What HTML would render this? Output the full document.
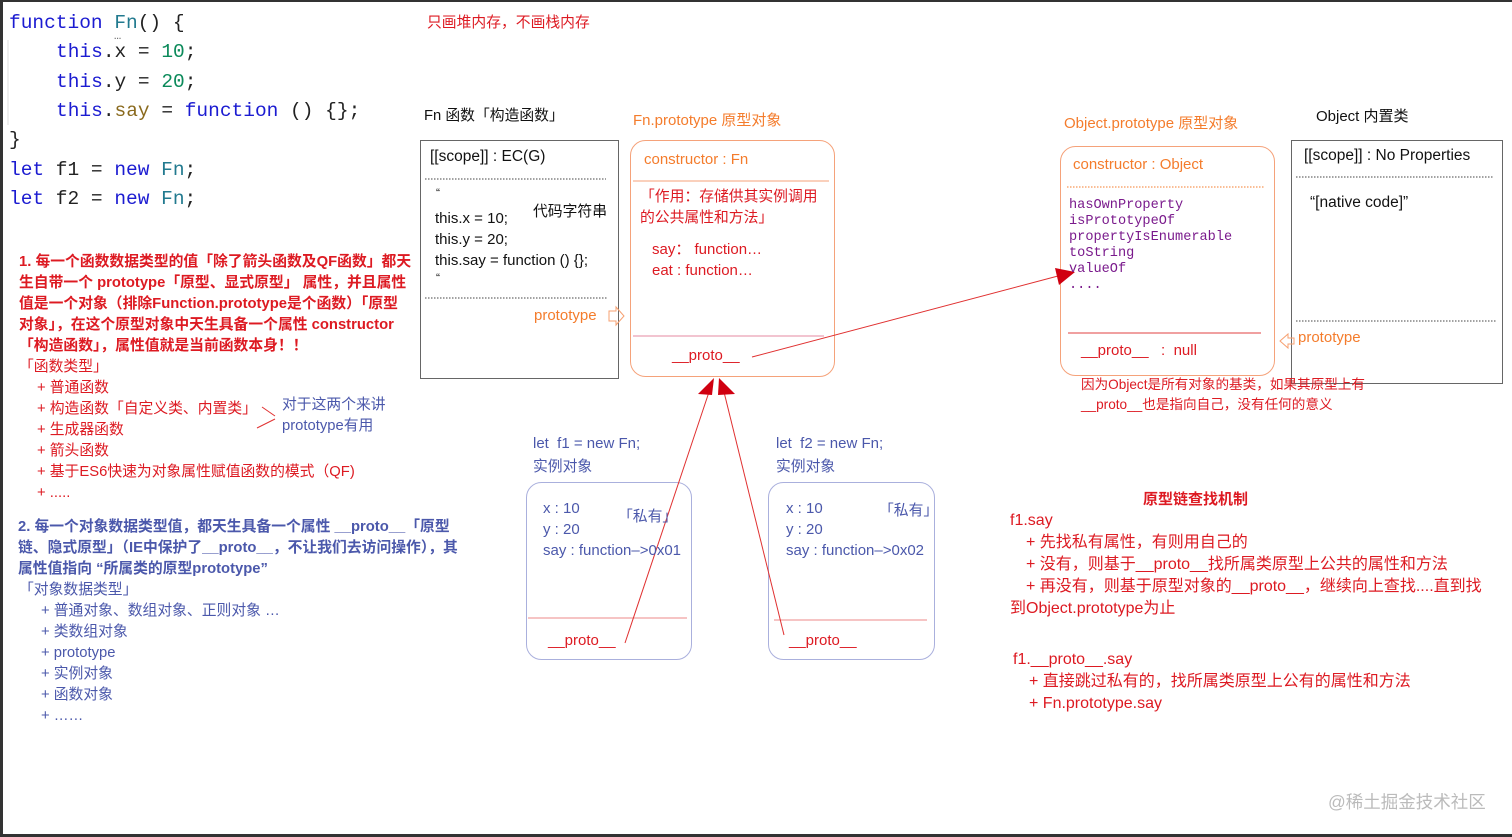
<!DOCTYPE html>
<html><head><meta charset="utf-8"><style>
html,body{margin:0;padding:0}
body{width:1512px;height:837px;position:relative;overflow:hidden;background:#fff;font-family:"Liberation Sans","Noto Sans CJK SC",sans-serif}
.t{position:absolute;white-space:nowrap;line-height:1}
.code{font-family:"Liberation Mono","DejaVu Sans Mono",monospace;font-size:19.5px;color:#222}
.kw{color:#1b1bd1}.num{color:#0b8a5a}.fn{color:#227a8f}.say{color:#8a6a1e}
.r{color:#dd1a22}.rb{color:#dd1a22;font-weight:bold;font-size:14.8px}
.b{color:#4b58ab}.bb{color:#4b58ab;font-weight:bold;font-size:14.8px}
.o{color:#f47c2c}
.m{font-family:"Liberation Mono","DejaVu Sans Mono",monospace;color:#7a1a8c;font-size:13.6px;line-height:16px}
</style></head><body>
<div style="position:absolute;left:0;top:0;width:1512px;height:2px;background:#333"></div>
<div style="position:absolute;left:0;top:0;width:3px;height:837px;background:#333"></div>
<div style="position:absolute;left:0;top:834px;width:1512px;height:3px;background:#333"></div>

<svg width="1512" height="837" style="position:absolute;left:0;top:0">
<line x1="8" y1="40" x2="8" y2="125" stroke="#ddd" stroke-width="1"/>
<rect x="420.5" y="140.5" width="198" height="238" fill="none" stroke="#666"/>
<line x1="425" y1="179" x2="606" y2="179" stroke="#444" stroke-dasharray="1.5,1.5"/>
<line x1="425" y1="298" x2="608" y2="298" stroke="#444" stroke-dasharray="1.5,1.5"/>
<path d="M609 311 h7 v-4 l8 9 l-8 9 v-4 h-7z" fill="none" stroke="#f7a070"/>
<rect x="630.5" y="140.5" width="204" height="236" rx="15" fill="none" stroke="#f5a27a"/>
<line x1="633" y1="181" x2="829" y2="181" stroke="#f5a27a"/>
<line x1="633" y1="336" x2="824" y2="336" stroke="#e58aa0"/>
<rect x="1060.5" y="146.5" width="214" height="229" rx="15" fill="none" stroke="#f5a27a"/>
<line x1="1067" y1="187" x2="1265" y2="187" stroke="#f47c2c" stroke-dasharray="1.5,1.5"/>
<line x1="1068" y1="333" x2="1261" y2="333" stroke="#e04040"/>
<rect x="1291.5" y="140.5" width="211" height="243" fill="none" stroke="#666"/>
<line x1="1296" y1="177" x2="1494" y2="177" stroke="#444" stroke-dasharray="1.5,1.5"/>
<line x1="1296" y1="321" x2="1497" y2="321" stroke="#444" stroke-dasharray="1.5,1.5"/>
<path d="M1294 338 h-6 v-4 l-8 7 l8 7 v-4 h6z" fill="none" stroke="#f7a070"/>
<rect x="526.5" y="482.5" width="165" height="177" rx="15" fill="none" stroke="#aab0dd"/>
<line x1="528" y1="618" x2="687" y2="618" stroke="#e88"/>
<rect x="768.5" y="482.5" width="166" height="177" rx="15" fill="none" stroke="#aab0dd"/>
<line x1="774" y1="620" x2="927" y2="620" stroke="#e88"/>
<g stroke="#e03030" stroke-width="1">
<line x1="625" y1="643" x2="709" y2="392"/>
<line x1="784" y1="635" x2="724" y2="392"/>
<line x1="752" y1="357" x2="1058" y2="276"/>
<line x1="262" y1="407" x2="275" y2="416"/>
<line x1="275" y1="419" x2="257" y2="428"/>
</g>
<g fill="#d00010">
<polygon points="714,378 698,394 712,395"/>
<polygon points="719,378 718,395 735,394"/>
<polygon points="1075,272 1055,268 1059,285"/>
</g>
</svg>

<div class="t code" style="left:9px;top:14px"><span class="kw">function</span> <span class="fn">Fn</span>() {</div>
<div class="t code" style="left:114px;top:30px;font-size:12px;color:#666">…</div>
<div class="t code" style="left:56px;top:43px"><span class="kw">this</span>.x = <span class="num">10</span>;</div>
<div class="t code" style="left:56px;top:73px"><span class="kw">this</span>.y = <span class="num">20</span>;</div>
<div class="t code" style="left:56px;top:102px"><span class="kw">this</span>.<span class="say">say</span> = <span class="kw">function</span> () {};</div>
<div class="t code" style="left:9px;top:131px">}</div>
<div class="t code" style="left:9px;top:161px"><span class="kw">let</span> f1 = <span class="kw">new</span> <span class="fn">Fn</span>;</div>
<div class="t code" style="left:9px;top:190px"><span class="kw">let</span> f2 = <span class="kw">new</span> <span class="fn">Fn</span>;</div>

<div class="t r" style="left:427px;top:16px;font-size:14.8px">只画堆内存，不画栈内存</div>

<div class="t rb" style="left:19px;top:255px">1. 每一个函数数据类型的值「除了箭头函数及QF函数」都天</div>
<div class="t rb" style="left:19px;top:276px">生自带一个 prototype「原型、显式原型」 属性，并且属性</div>
<div class="t rb" style="left:19px;top:297px">值是一个对象（排除Function.prototype是个函数）「原型</div>
<div class="t rb" style="left:19px;top:318px">对象」，在这个原型对象中天生具备一个属性 constructor</div>
<div class="t rb" style="left:19px;top:339px">「构造函数」，属性值就是当前函数本身！！</div>
<div class="t r" style="left:19px;top:360px;font-size:14.8px">「函数类型」</div>
<div class="t r" style="left:37px;top:381px;font-size:14.8px">+ 普通函数</div>
<div class="t r" style="left:37px;top:402px;font-size:14.8px">+ 构造函数「自定义类、内置类」</div>
<div class="t r" style="left:37px;top:423px;font-size:14.8px">+ 生成器函数</div>
<div class="t r" style="left:37px;top:444px;font-size:14.8px">+ 箭头函数</div>
<div class="t r" style="left:37px;top:465px;font-size:14.8px">+ 基于ES6快速为对象属性赋值函数的模式（QF)</div>
<div class="t r" style="left:37px;top:486px;font-size:14.8px">+ .....</div>
<div class="t b" style="left:282px;top:398px;font-size:14.8px">对于这两个来讲</div>
<div class="t b" style="left:282px;top:419px;font-size:14.8px">prototype有用</div>

<div class="t bb" style="left:18px;top:520px">2.  每一个对象数据类型值，都天生具备一个属性 __proto__「原型</div>
<div class="t bb" style="left:18px;top:541px">链、隐式原型」（IE中保护了__proto__，不让我们去访问操作），其</div>
<div class="t bb" style="left:18px;top:562px">属性值指向 “所属类的原型prototype”</div>
<div class="t b" style="left:19px;top:583px;font-size:14.8px">「对象数据类型」</div>
<div class="t b" style="left:41px;top:604px;font-size:14.8px">+ 普通对象、数组对象、正则对象 …</div>
<div class="t b" style="left:41px;top:625px;font-size:14.8px">+ 类数组对象</div>
<div class="t b" style="left:41px;top:646px;font-size:14.8px">+ prototype</div>
<div class="t b" style="left:41px;top:667px;font-size:14.8px">+ 实例对象</div>
<div class="t b" style="left:41px;top:688px;font-size:14.8px">+ 函数对象</div>
<div class="t b" style="left:41px;top:709px;font-size:14.8px">+ ……</div>

<div class="t" style="left:424px;top:109px;font-size:14.8px;color:#111">Fn 函数「构造函数」</div>
<div class="t" style="left:430px;top:149px;font-size:15.5px;color:#111">[[scope]] : EC(G)</div>
<div class="t" style="left:436px;top:187px;font-size:12px;color:#111">“</div>
<div class="t" style="left:435px;top:211px;font-size:15px;color:#111">this.x = 10;</div>
<div class="t" style="left:533px;top:205px;font-size:14.8px;color:#111">代码字符串</div>
<div class="t" style="left:435px;top:232px;font-size:15px;color:#111">this.y = 20;</div>
<div class="t" style="left:435px;top:253px;font-size:15px;color:#111">this.say = function () {};</div>
<div class="t" style="left:436px;top:272px;font-size:12px;color:#111">“</div>
<div class="t o" style="left:534px;top:308px;font-size:15px">prototype</div>

<div class="t o" style="left:633px;top:113px;font-size:15px">Fn.prototype 原型对象</div>
<div class="t o" style="left:644px;top:152px;font-size:15px">constructor : Fn</div>
<div class="t r" style="left:640px;top:190px;font-size:14.8px">「作用：存储供其实例调用</div>
<div class="t r" style="left:640px;top:211px;font-size:14.8px">的公共属性和方法」</div>
<div class="t r" style="left:652px;top:242px;font-size:15px">say： function…</div>
<div class="t r" style="left:652px;top:263px;font-size:15px">eat : function…</div>
<div class="t r" style="left:672px;top:348px;font-size:15px">__proto__</div>

<div class="t o" style="left:1064px;top:116px;font-size:15px">Object.prototype 原型对象</div>
<div class="t o" style="left:1073px;top:157px;font-size:15px">constructor : Object</div>
<div class="t m" style="left:1069px;top:198px">hasOwnProperty<br>isPrototypeOf<br>propertyIsEnumerable<br>toString<br>valueOf<br>....</div>
<div class="t r" style="left:1081px;top:343px;font-size:15px">__proto__ &nbsp;&nbsp;: &nbsp;null</div>
<div class="t r" style="left:1081px;top:378px;font-size:13.6px">因为Object是所有对象的基类，如果其原型上有</div>
<div class="t r" style="left:1081px;top:398px;font-size:13.6px">__proto__也是指向自己，没有任何的意义</div>

<div class="t" style="left:1316px;top:109px;font-size:15px;color:#111">Object 内置类</div>
<div class="t" style="left:1304px;top:148px;font-size:15.5px;color:#111">[[scope]] : No Properties</div>
<div class="t" style="left:1310px;top:195px;font-size:15.5px;color:#111">“[native code]”</div>
<div class="t o" style="left:1298px;top:330px;font-size:15px">prototype</div>

<div class="t b" style="left:533px;top:436px;font-size:15px">let &nbsp;f1 = new Fn;</div>
<div class="t b" style="left:533px;top:460px;font-size:14.8px">实例对象</div>
<div class="t b" style="left:543px;top:501px;font-size:15px">x : 10</div>
<div class="t b" style="left:543px;top:522px;font-size:15px">y : 20</div>
<div class="t b" style="left:543px;top:543px;font-size:15px">say : function–&gt;0x01</div>
<div class="t b" style="left:618px;top:510px;font-size:14.8px">「私有」</div>
<div class="t r" style="left:548px;top:633px;font-size:15px">__proto__</div>

<div class="t b" style="left:776px;top:436px;font-size:15px">let &nbsp;f2 = new Fn;</div>
<div class="t b" style="left:776px;top:460px;font-size:14.8px">实例对象</div>
<div class="t b" style="left:786px;top:501px;font-size:15px">x : 10</div>
<div class="t b" style="left:786px;top:522px;font-size:15px">y : 20</div>
<div class="t b" style="left:786px;top:543px;font-size:15px">say : function–&gt;0x02</div>
<div class="t b" style="left:879px;top:504px;font-size:14.8px">「私有」</div>
<div class="t r" style="left:789px;top:633px;font-size:15px">__proto__</div>

<div class="t r" style="left:1143px;top:492px;font-size:15px;font-weight:bold">原型链查找机制</div>
<div class="t r" style="left:1010px;top:513px;font-size:16px">f1.say</div>
<div class="t r" style="left:1026px;top:535px;font-size:16px">+ 先找私有属性，有则用自己的</div>
<div class="t r" style="left:1026px;top:557px;font-size:16px">+ 没有，则基于__proto__找所属类原型上公共的属性和方法</div>
<div class="t r" style="left:1026px;top:579px;font-size:16px">+ 再没有，则基于原型对象的__proto__，继续向上查找....直到找</div>
<div class="t r" style="left:1010px;top:601px;font-size:16px">到Object.prototype为止</div>
<div class="t r" style="left:1013px;top:652px;font-size:16px">f1.__proto__.say</div>
<div class="t r" style="left:1029px;top:674px;font-size:16px">+ 直接跳过私有的，找所属类原型上公有的属性和方法</div>
<div class="t r" style="left:1029px;top:696px;font-size:16px">+ Fn.prototype.say</div>

<div class="t" style="left:1328px;top:794px;font-size:17.5px;color:#bbb">@稀土掘金技术社区</div>
</body></html>
